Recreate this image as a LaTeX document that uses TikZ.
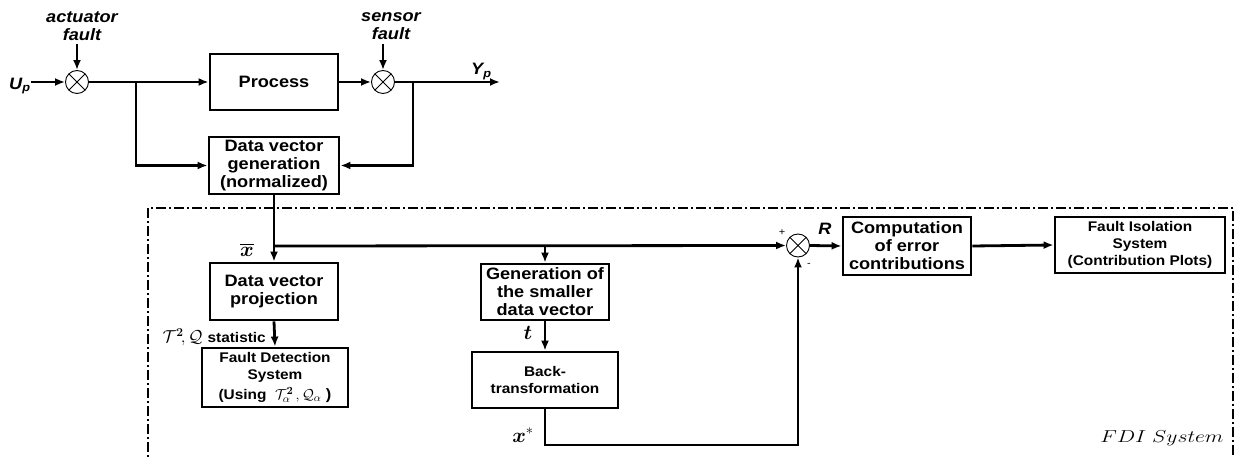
\documentclass[tikz,border=0pt]{standalone}
\usepackage{fontspec}
\usepackage{amsmath}
\usepackage{bm}
\setsansfont{Liberation Sans}[FakeStretch=1.1]
\usetikzlibrary{arrows.meta,calc}
\begin{document}
\begin{tikzpicture}[x=1pt,y=-1pt,
  big/.style={font=\sffamily\bfseries\fontsize{16.5}{18}\selectfont},
  small/.style={font=\sffamily\bfseries\fontsize{14}{17}\selectfont},
  blk/.style={draw, line width=2.8pt, inner sep=0pt, align=center},
  sumnode/.style={draw, circle, line width=0.9pt, minimum size=23pt, inner sep=0pt,
    path picture={\draw[line width=0.9pt] (path picture bounding box.north west)--(path picture bounding box.south east) (path picture bounding box.north east)--(path picture bounding box.south west);}},
  arr/.style={line width=2.8pt, -{Latex[length=10pt,width=8pt]}},
  ln/.style={line width=2.8pt},
  lbl/.style={font=\sffamily\bfseries\itshape\fontsize{16.5}{18}\selectfont, inner sep=0pt, align=center},
  mth/.style={inner sep=0pt, font=\fontsize{22}{24}\selectfont},
]
\useasboundingbox (0,0) rectangle (1235,457);

% FDI frame
\draw[line width=1.6pt, dash pattern=on 10pt off 3pt on 2pt off 3pt]
  (148,470) -- (148,208) -- (1233,208) -- (1233,470);
\node[font=\fontsize{18}{20}\selectfont, inner sep=0pt] (fdi) at (1162,438) {\scalebox{1.25}[1]{$FDI\;System$}};

% top loop
\node[sumnode] (s1) at (77,82) {};
\node[sumnode] (s2) at (383,82) {};
\node[blk, big, minimum width=128pt, minimum height=56pt] (proc) at (274,82) {Process};
\node[blk, big, minimum width=130pt, minimum height=57pt] (dvg) at (274,165.5) {Data vector\\generation\\(normalized)};

\node[lbl] (act) at (82,26) {actuator\\fault};
\node[lbl] (sen) at (391,26) {sensor\\fault};
\coordinate (actin) at (77,44);
\coordinate (senin) at (383,44);
\draw[arr] (actin) -- (s1.north);
\draw[arr] (senin) -- (s2.north);

\node[lbl, anchor=west] (up) at (9,86) {U\textsubscript{p}};
\draw[arr] (up.east |- s1.west) -- (s1.west);
\draw[arr] (s1.east) -- (proc.west);
\draw[arr] (proc.east) -- (s2.west);
\coordinate (yout) at (500,82);
\draw[arr] (s2.east) -- (yout);
\node[lbl, anchor=base west] (yp) at (471,75) {Y\textsubscript{p}};

\coordinate (b1) at (136,82);
\coordinate (b2) at (413,82);
\draw[arr] (b1) |- (dvg.west);
\draw[arr] (b2) |- (dvg.east);

% FDI blocks
\node[blk, big, minimum width=128pt, minimum height=57pt] (dvp) at (274,291.5) {Data vector\\projection};
\node[blk, small, minimum width=146pt, minimum height=59pt] (fds) at (275,377.5) {Fault Detection\\System\\[3pt](Using \ \fontsize{15}{17}\selectfont$\mathcal{T}_{\alpha}^{\bm 2}\,,\mathcal{Q}_{\alpha}$\ )};
\node[blk, big, minimum width=128pt, minimum height=56pt] (gen) at (545,292) {Generation of\\the smaller\\data vector};
\node[blk, small, minimum width=146pt, minimum height=56pt] (bt) at (545,380) {Back-\\transformation};
\node[sumnode] (s3) at (798,245.5) {};
\node[blk, big, minimum width=128pt, minimum height=58pt] (comp) at (907,246) {Computation\\of error\\contributions};
\node[blk, small, minimum width=170pt, minimum height=56pt] (fis) at (1140,245) {Fault Isolation\\System\\(Contribution Plots)};

\coordinate (b3) at (274,246);
\coordinate (b4) at (545,246);
\coordinate (c1) at (798,445);
\draw[ln] (dvg.south) -- (b3);
\draw[arr] (b3) -- (dvp.north);
\draw[arr] (b3) -- (s3.west);
\draw[arr] (b4) -- (gen.north);
\draw[arr] (dvp.south) -- (fds.north);
\draw[arr] (gen.south) -- (bt.north);
\draw[arr] (bt.south) |- (c1) -- (s3.south);
\draw[arr] (s3.east) -- (comp.west);
\draw[arr] (comp.east) -- (fis.west);

% labels
\node[mth] (xbar) at (247,250) {$\overline{\bm{x}}$};
\node[inner sep=0pt, anchor=east] (tq) at (266,337) {\fontsize{17}{18}\selectfont$\mathcal{T}^{\bm 2}\!,\mathcal{Q}$\ \sffamily\bfseries\fontsize{14}{17}\selectfont statistic};
\node[mth] (tl) at (528,333) {$\bm{t}$};
\node[mth] (xs) at (523,435) {$\bm{x}^{*}$};
\node[inner sep=0pt, font=\sffamily\fontsize{10}{12}\selectfont] (plus) at (782,233) {+};
\node[inner sep=0pt, font=\sffamily\fontsize{10}{12}\selectfont] (minus) at (809,265) {-};
\node[lbl] (rl) at (825,229) {R};
\end{tikzpicture}
\end{document}
